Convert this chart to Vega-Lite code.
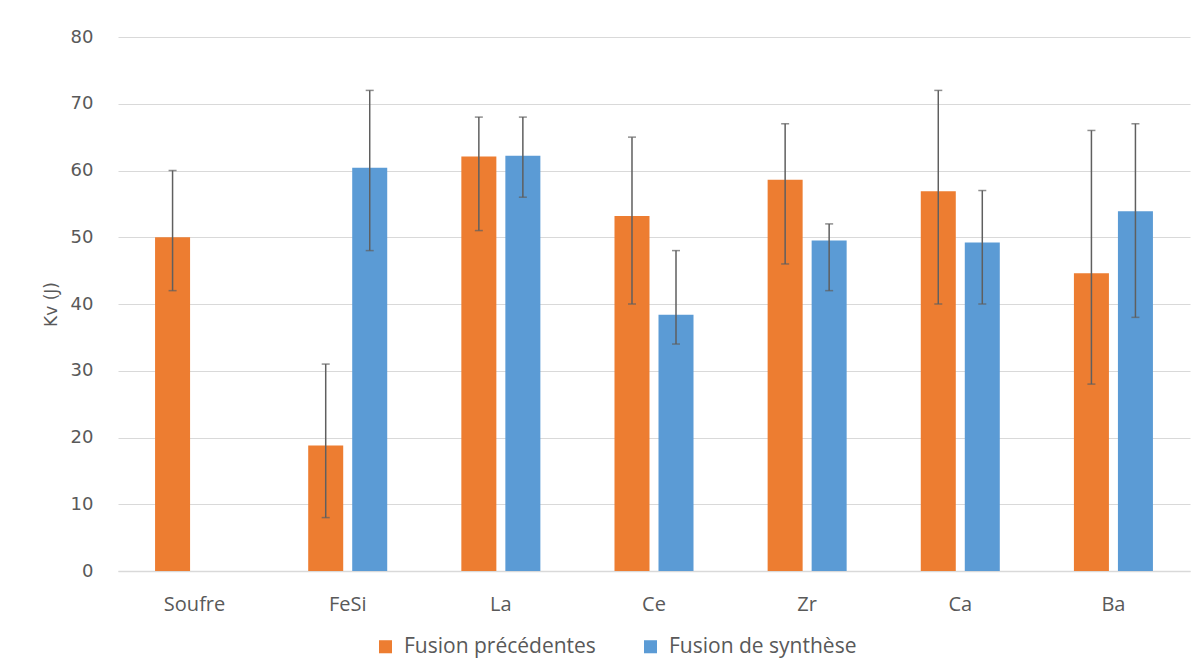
{
  "$schema": "https://vega.github.io/schema/vega-lite/v6.json",
  "width": 1072,
  "height": 534,
  "autosize": {"type": "none"},
  "padding": {"left": 118, "top": 37, "right": 13, "bottom": 101},
  "background": "white",
  "config": {
    "view": {"stroke": null},
    "axis": {"labelColor": "#595959", "titleColor": "#595959", "labelFont": "Open Sans", "titleFont": "Open Sans"},
    "legend": {"labelColor": "#595959", "labelFont": "Open Sans"}
  },
  "data": {
    "values": [
      {"cat": "Soufre", "serie": "Fusion précédentes", "kv": 50.0, "lo": 42, "hi": 60},
      {"cat": "FeSi", "serie": "Fusion précédentes", "kv": 18.8, "lo": 8, "hi": 31},
      {"cat": "FeSi", "serie": "Fusion de synthèse", "kv": 60.4, "lo": 48, "hi": 72},
      {"cat": "La", "serie": "Fusion précédentes", "kv": 62.1, "lo": 51, "hi": 68},
      {"cat": "La", "serie": "Fusion de synthèse", "kv": 62.2, "lo": 56, "hi": 68},
      {"cat": "Ce", "serie": "Fusion précédentes", "kv": 53.2, "lo": 40, "hi": 65},
      {"cat": "Ce", "serie": "Fusion de synthèse", "kv": 38.4, "lo": 34, "hi": 48},
      {"cat": "Zr", "serie": "Fusion précédentes", "kv": 58.6, "lo": 46, "hi": 67},
      {"cat": "Zr", "serie": "Fusion de synthèse", "kv": 49.5, "lo": 42, "hi": 52},
      {"cat": "Ca", "serie": "Fusion précédentes", "kv": 56.9, "lo": 40, "hi": 72},
      {"cat": "Ca", "serie": "Fusion de synthèse", "kv": 49.2, "lo": 40, "hi": 57},
      {"cat": "Ba", "serie": "Fusion précédentes", "kv": 44.6, "lo": 28, "hi": 66},
      {"cat": "Ba", "serie": "Fusion de synthèse", "kv": 53.9, "lo": 38, "hi": 67}
    ]
  },
  "encoding": {
    "x": {
      "field": "cat", "type": "nominal",
      "sort": ["Soufre", "FeSi", "La", "Ce", "Zr", "Ca", "Ba"],
      "scale": {"paddingInner": 0.484, "paddingOuter": 0.242},
      "axis": {"title": null, "labelAngle": 0, "ticks": false, "labelPadding": 23, "labelFontSize": 20, "domainColor": "#D9D9D9", "domainWidth": 1.5, "grid": false}
    },
    "xOffset": {
      "field": "serie", "type": "nominal",
      "sort": ["Fusion précédentes", "Fusion de synthèse"],
      "scale": {"paddingInner": 0.2045, "paddingOuter": 0}
    }
  },
  "layer": [
    {
      "mark": {"type": "bar"},
      "encoding": {
        "y": {
          "field": "kv", "type": "quantitative",
          "scale": {"domain": [0, 80]},
          "axis": {"title": "Kv (J)", "titleFont": "DejaVu Sans", "titleFontSize": 17, "titleFontWeight": "normal", "titlePadding": 10, "labelFont": "DejaVu Sans", "labelFontSize": 18, "labelPadding": 25, "ticks": false, "domain": false, "values": [0, 10, 20, 30, 40, 50, 60, 70, 80], "labelOverlap": false, "gridColor": "#D9D9D9", "gridWidth": 1}
        },
        "color": {
          "field": "serie", "type": "nominal",
          "sort": ["Fusion précédentes", "Fusion de synthèse"],
          "scale": {"domain": ["Fusion précédentes", "Fusion de synthèse"], "range": ["#ED7D31", "#5B9BD5"]},
          "legend": {"title": null, "orient": "none", "direction": "horizontal", "legendX": 257, "legendY": 599, "symbolType": "square", "symbolSize": 170, "symbolStrokeWidth": 0, "labelFontSize": 21, "labelLimit": 0, "columnPadding": 44, "labelOffset": 8}
        }
      }
    },
    {
      "mark": {"type": "rule", "color": "#5F5F5F", "strokeWidth": 1.5},
      "encoding": {
        "y": {"field": "lo", "type": "quantitative"},
        "y2": {"field": "hi"}
      }
    },
    {
      "mark": {"type": "tick", "color": "#5F5F5F", "thickness": 1.5, "size": 8},
      "encoding": {"y": {"field": "lo", "type": "quantitative"}}
    },
    {
      "mark": {"type": "tick", "color": "#5F5F5F", "thickness": 1.5, "size": 8},
      "encoding": {"y": {"field": "hi", "type": "quantitative"}}
    }
  ]
}
